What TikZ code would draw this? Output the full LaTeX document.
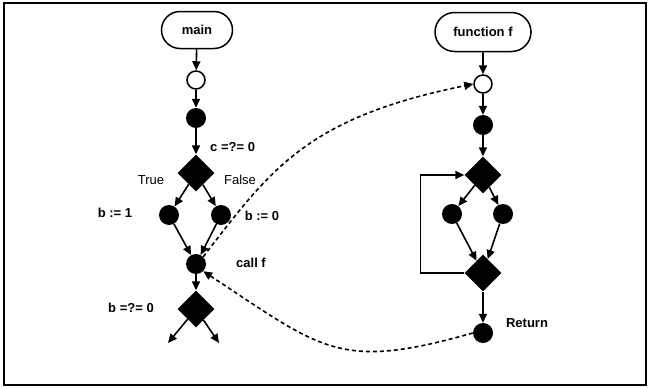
\documentclass[tikz,border=0pt]{standalone}
\usepackage{fontspec}
\setmainfont{Liberation Sans}
\usetikzlibrary{shapes.geometric,shapes.misc,arrows.meta}

\begin{document}
\begin{tikzpicture}[
  x=1pt, y=-1pt,
  font=\fontsize{13}{15}\selectfont\bfseries,
  term/.style={rounded rectangle, draw, line width=1.5pt, inner sep=0pt},
  entry/.style={circle, draw, fill=white, line width=1.5pt, minimum size=18pt, inner sep=0pt},
  stmt/.style={circle, fill=black, minimum size=20pt, inner sep=0pt},
  test/.style={diamond, fill=black, aspect=1, minimum size=37pt, inner sep=0pt},
  lbl/.style={inner sep=0pt},
  arr/.style={-{Triangle[length=9pt,width=8pt]}, line width=1.6pt},
  calls/.style={arr, dash pattern=on 4pt off 3pt}
]
\useasboundingbox (0,0) rectangle (648,388);
\draw[line width=2.5pt] (4,3) rectangle (646,385);

% caller
\node[term, minimum width=71pt, minimum height=37pt] (main) at (197,30) {main};
\node[entry] (m0)    at (196,80)  {};
\node[stmt]  (m1)    at (196,118) {};
\node[test]  (mc)    at (196,173) {};
\node[stmt]  (mt)    at (169,215) {};
\node[stmt]  (mf)    at (221,215) {};
\node[stmt]  (mcall) at (196,264) {};
\node[test]  (mb)    at (196,309) {};
\coordinate (mbt) at (168,343);
\coordinate (mbf) at (219,343);

\node[lbl, anchor=west] (lc) at (210,147) {c =?= 0};
\node[lbl, font=\fontsize{13}{15}\selectfont] (ltrue)  at (151,180) {True};
\node[lbl, font=\fontsize{13}{15}\selectfont] (lfalse) at (240,180) {False};
\node[lbl] (lb1)   at (115,213) {b := 1};
\node[lbl] (lb0)   at (262,216) {b := 0};
\node[lbl] (lcall) at (251,263) {call f};
\node[lbl] (lb)    at (131,308) {b =?= 0};

% callee
\node[term, minimum width=96pt, minimum height=39pt] (fun) at (483,32) {function f};
\node[entry] (f0)   at (483,84)  {};
\node[stmt]  (f1)   at (483,125) {};
\node[test]  (fd1)  at (483,175) {};
\node[stmt]  (fl)   at (452,214) {};
\node[stmt]  (fr)   at (503,214) {};
\node[test]  (fd2)  at (483,273) {};
\node[stmt]  (fret) at (483,333) {};
\node[lbl] (lret) at (527,323) {Return};

\draw[arr] (main) -- (m0); \draw[arr] (m0) -- (m1);
\draw[arr] (m1) -- (mc);
\draw[arr] (mc) -- (mt);   \draw[arr] (mc) -- (mf);
\draw[arr] (mt) -- (mcall); \draw[arr] (mf) -- (mcall);
\draw[arr] (mcall) -- (mb);
\draw[arr] (mb) -- (mbt);  \draw[arr] (mb) -- (mbf);

\draw[arr] (fun) -- (f0); \draw[arr] (f0) -- (f1);
\draw[arr] (f1) -- (fd1);
\draw[arr] (fd1) -- (fl);  \draw[arr] (fd1) -- (fr);
\draw[arr] (fl) -- (fd2);  \draw[arr] (fr) -- (fd2);
\draw[arr] (fd2.west) -- ++(-44,0) |- (fd1.west);
\draw[arr] (fd2) -- (fret);

% call and return edges
\draw[calls] (mcall.north east) .. controls (271,169) and (306,118) .. (f0.west);
\draw[calls] (fret.west) .. controls (339,371) and (323,350) .. (mcall.south east);
\end{tikzpicture}
\end{document}
